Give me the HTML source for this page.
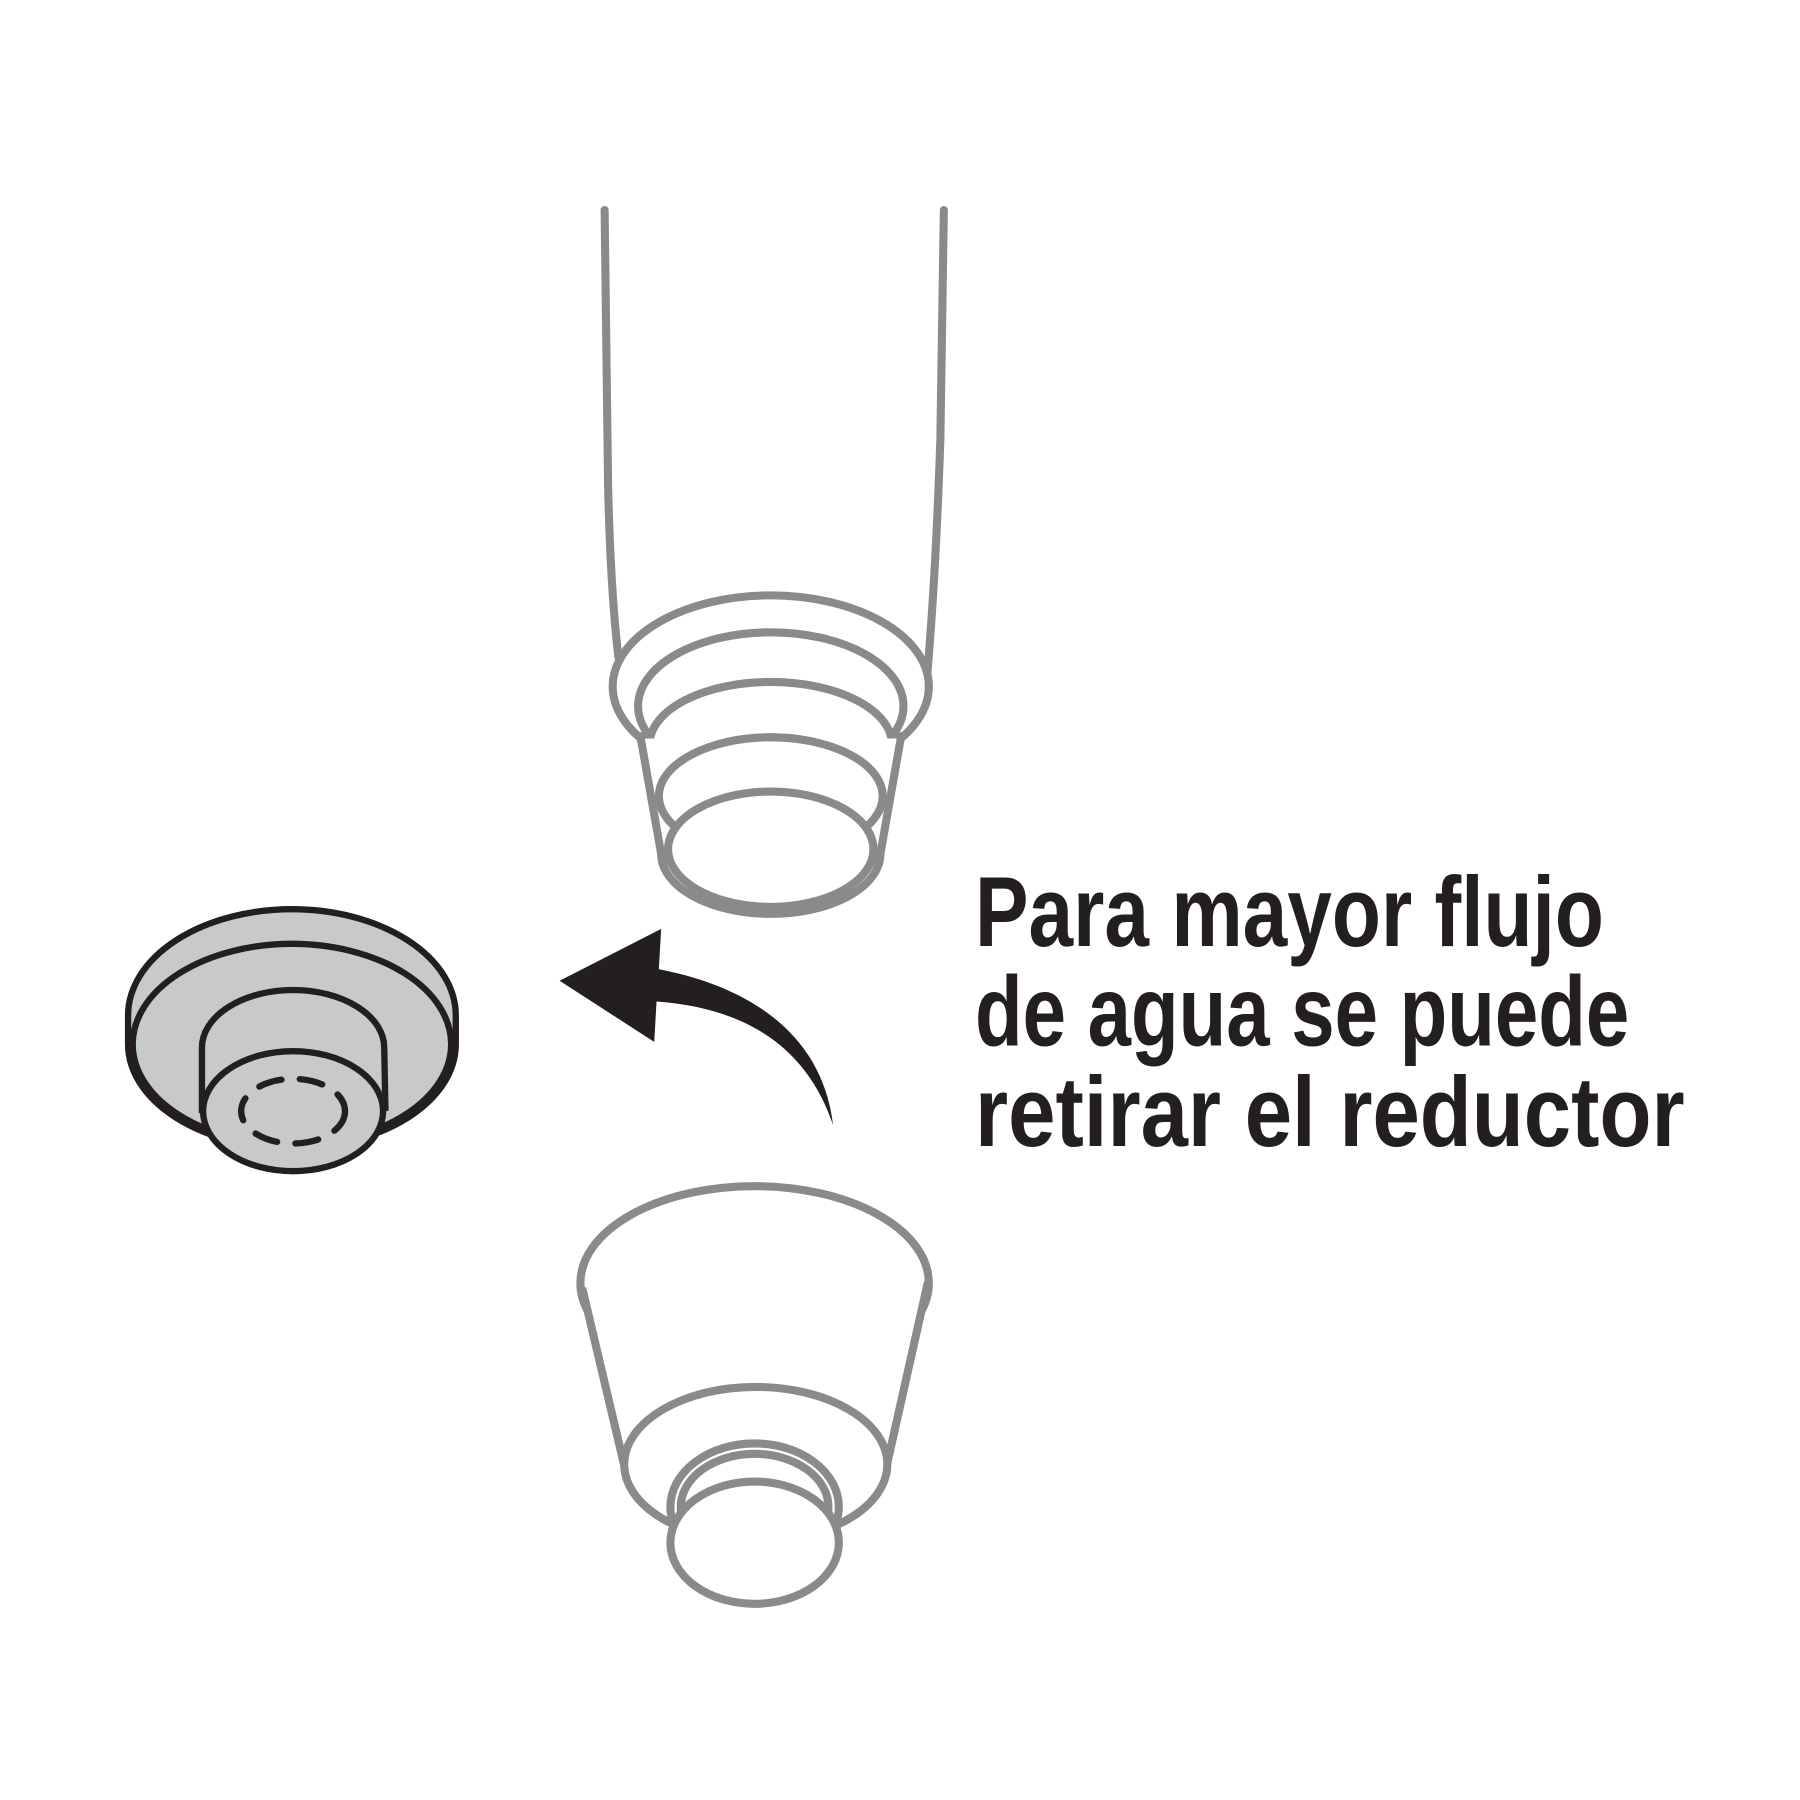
<!DOCTYPE html>
<html><head><meta charset="utf-8"><style>html,body{margin:0;padding:0;background:#fff}svg{display:block}</style></head>
<body>
<svg width="1800" height="1800" viewBox="0 0 1560 1560" xmlns="http://www.w3.org/2000/svg">
<rect width="1560" height="1560" fill="#fff"/>
<g fill="#fff" stroke="#8a8a8c" stroke-width="7" stroke-linecap="round" stroke-linejoin="round">
  <!-- top faucet -->
  <path d="M524,182 L527,420 Q529,510 536,570" fill="none"/>
  <path d="M818,182 L815,380 Q811,500 803,592" fill="none"/>
  <ellipse cx="668" cy="595" rx="137" ry="79"/>
  <ellipse cx="668" cy="612" rx="115" ry="64"/>
  <ellipse cx="668" cy="645" rx="105" ry="54"/>
  <ellipse cx="668" cy="690" rx="97" ry="51"/>
  <path d="M555,640 L573,740 L763,740 L780,640 Z" stroke="none"/>
  <ellipse cx="668" cy="690" rx="97" ry="51" fill="none"/>
  <path d="M573,740 A95,52 0 0 0 763,740" fill="none"/>
  <ellipse cx="668" cy="736" rx="89" ry="50"/>
  <path d="M555,638 L573,740" fill="none"/>
  <path d="M781,638 L763,740" fill="none"/>
  <!-- bottom reducer -->
  <ellipse cx="654" cy="1112" rx="151" ry="84"/>
  <path d="M505,1118 L541,1270 L769,1268 L804,1112 Z" stroke="none"/>
  <path d="M505,1118 L541,1270" fill="none"/>
  <path d="M804,1112 L769,1268" fill="none"/>
  <ellipse cx="655" cy="1269" rx="114" ry="67"/>
  <ellipse cx="654" cy="1306" rx="73" ry="55"/>
  <ellipse cx="654" cy="1306" rx="64" ry="46"/>
  <ellipse cx="654" cy="1337" rx="73" ry="53"/>
</g>
<!-- gray object -->
<g fill="#c8c9cb" stroke="#231f20" stroke-width="5.5">
  <path d="M111,880 A142,92 0 0 1 395,880 L395,905 A142,90 0 0 1 111,905 Z"/>
  <ellipse cx="253" cy="905" rx="138" ry="87"/>
  <path d="M175,908 A79,50 0 0 1 333,908 L334,960 L175,962 Z"/>
  <ellipse cx="254" cy="963" rx="78" ry="52"/>
  <ellipse cx="254" cy="963" rx="45" ry="28" fill="none" stroke-dasharray="20 16" stroke-linecap="round"/>
</g>
<!-- arrow -->
<path d="M485,850 L573,805 L571,840 C640,853 712,890 722,975 C700,910 650,874 569,868 L567,903 Z" fill="#231f20"/>
<!-- text -->
<g font-family="'Liberation Sans Narrow','Liberation Sans',sans-serif" font-weight="bold" font-size="86" fill="#231f20">
  <text x="845" y="820" textLength="545" lengthAdjust="spacingAndGlyphs">Para mayor flujo</text>
  <text x="845" y="906" textLength="567" lengthAdjust="spacingAndGlyphs">de agua se puede</text>
  <text x="845" y="993" textLength="615" lengthAdjust="spacingAndGlyphs">retirar el reductor</text>
</g>
</svg>
</body></html>
